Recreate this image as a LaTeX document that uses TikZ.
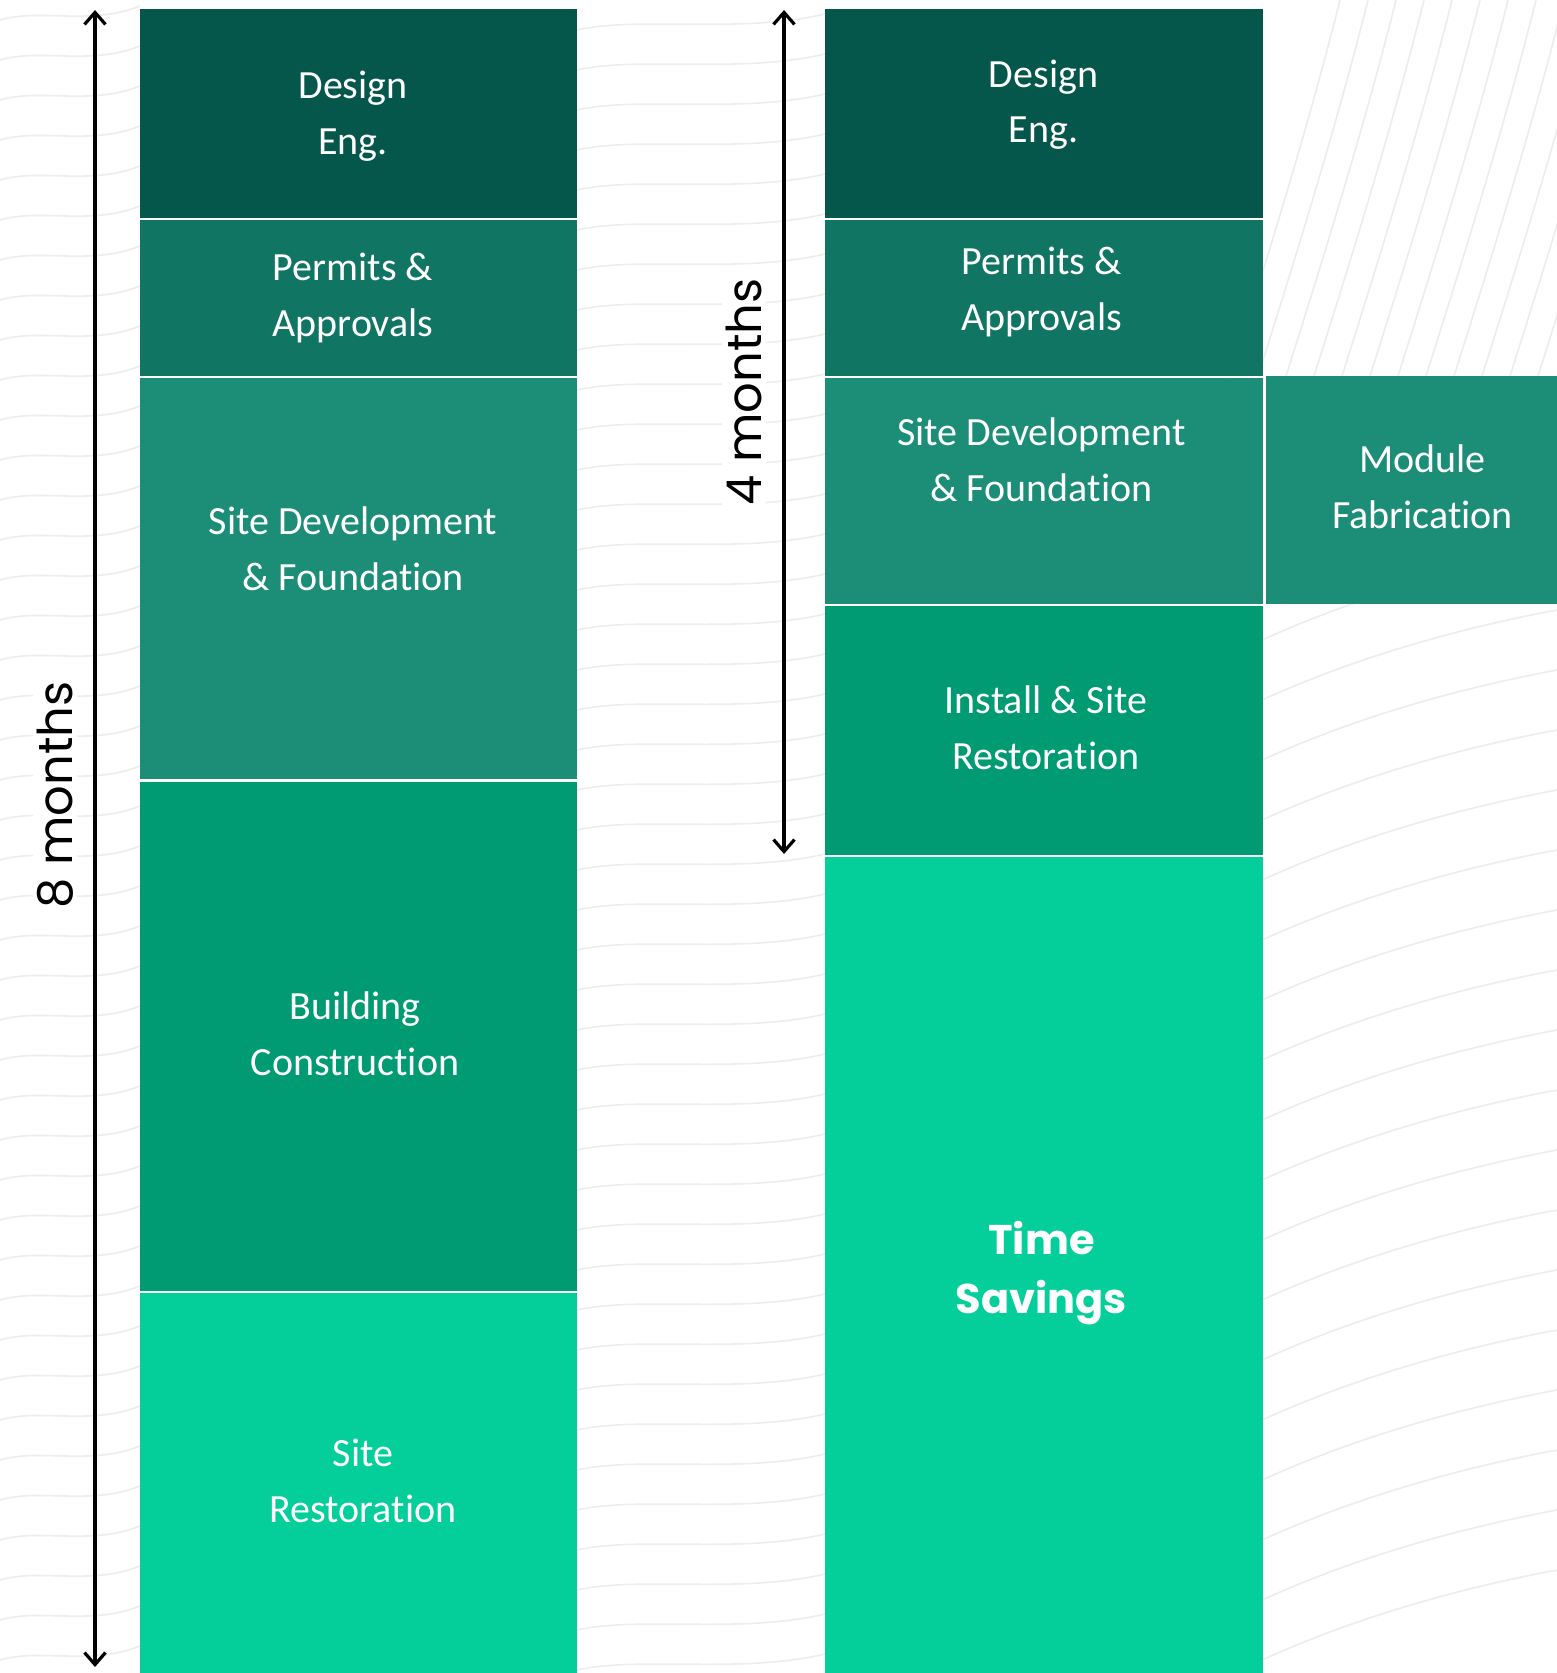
\documentclass[tikz,border=0pt]{standalone}
\usepackage{fontspec}
\setmainfont{Carlito}[Ligatures=NoCommon]
\newfontfamily\gfont{Poppins}
\usetikzlibrary{arrows.meta}
\definecolor{cA}{HTML}{04574A}
\definecolor{cB}{HTML}{107663}
\definecolor{cC}{HTML}{1C8E78}
\definecolor{cD}{HTML}{009A73}
\definecolor{cE}{HTML}{04CE9A}
\definecolor{bgl}{HTML}{EDEDED}
\begin{document}
\begin{tikzpicture}[x=1pt,y=-1pt,
  box/.style={draw=none, anchor=north west, inner sep=0pt, outer sep=0pt},
  txt/.style={text=white, align=center, inner sep=0pt, font=\fontsize{40}{55.5}\selectfont},
  big/.style={text=white, align=center, inner sep=0pt, font=\gfont\bfseries\fontsize{41.5}{58.5}\selectfont},
  months/.style={fill=white, inner sep=4pt, rotate=90, font=\gfont\fontsize{48}{56}\selectfont},
  span/.style={line width=3.4pt, {Straight Barb[length=12pt,width=21pt,line width=3.2pt]}-{Straight Barb[length=12pt,width=21pt,line width=3.2pt]}},
  bgline/.style={draw=bgl, line width=1.6pt}]
\useasboundingbox (0,0) rectangle (1557,1673);
\fill[white] (0,0) rectangle (1557,1673);
% faint background texture
\foreach \y in {20,60,...,1660} {
  \draw[bgline] (0,\y) .. controls (40,\y-12) and (90,\y+6) .. (140,\y-14);
  \draw[bgline] (577,\y+10) .. controls (640,\y-4) and (740,\y+14) .. (825,\y-6);
}
\foreach \x in {1230,1258,...,1560} {
  \draw[bgline] (\x,376) .. controls (\x+40,250) and (\x+80,120) .. (\x+110,0);
}
\foreach \y in {640,700,...,1660} {
  \draw[bgline] (1262,\y) .. controls (1350,\y-40) and (1450,\y-70) .. (1557,\y-90);
}
% left column
\node[box, fill=cA, minimum width=437pt, minimum height=209.5pt] (ld) at (140,8.5) {};
\node[box, fill=cB, minimum width=437pt, minimum height=156pt] (lp) at (140,220) {};
\node[box, fill=cC, minimum width=437pt, minimum height=401pt] (ls) at (140,378) {};
\node[box, fill=cD, minimum width=437pt, minimum height=509pt] (lb) at (140,782) {};
\node[box, fill=cE, minimum width=437pt, minimum height=380pt] (lr) at (140,1293) {};
% right column
\node[box, fill=cA, minimum width=437.5pt, minimum height=209.5pt] (rd) at (825,8.5) {};
\node[box, fill=cB, minimum width=437.5pt, minimum height=156pt] (rp) at (825,220) {};
\node[box, fill=cC, minimum width=437.5pt, minimum height=226pt] (rs) at (825,378) {};
\node[box, fill=cD, minimum width=437.5pt, minimum height=249pt] (ri) at (825,606) {};
\node[box, fill=cE, minimum width=437.5pt, minimum height=816pt] (rt) at (825,857) {};
\node[box, fill=cC, minimum width=291pt, minimum height=228pt] (rm) at (1266,376) {};
% labels
\node[txt] (tld) at (353,116.2) {Design\\Eng.};
\node[txt] (tlp) at (353,298.2) {Permits \&\\Approvals};
\node[txt] (tls) at (353,549) {Site Development\\\& Foundation};
\node[txt] (tlb) at (355,1033.5) {Building\\Construction};
\node[txt] (tlr) at (363,1481) {Site\\Restoration};
\node[txt] (trd) at (1043.5,104.7) {Design\\Eng.};
\node[txt] (trp) at (1041.5,292.2) {Permits \&\\Approvals};
\node[txt] (trs) at (1041.5,460) {Site Development\\\& Foundation};
\node[txt] (tri) at (1046,728) {Install \& Site\\Restoration};
\node[big] (trt) at (1041.5,1273) {Time\\Savings};
\node[txt] (trm) at (1422.5,487) {Module\\Fabrication};
% spans
\coordinate (a1s) at (95,10);
\coordinate (a1e) at (95,1667);
\draw[span] (a1s) -- (a1e);
\node[months] (m8) at (55,795) {8 months};
\coordinate (a2s) at (784,10);
\coordinate (a2e) at (784,854);
\draw[span] (a2s) -- (a2e);
\node[months] (m4) at (744,392) {4 months};
\end{tikzpicture}
\end{document}
